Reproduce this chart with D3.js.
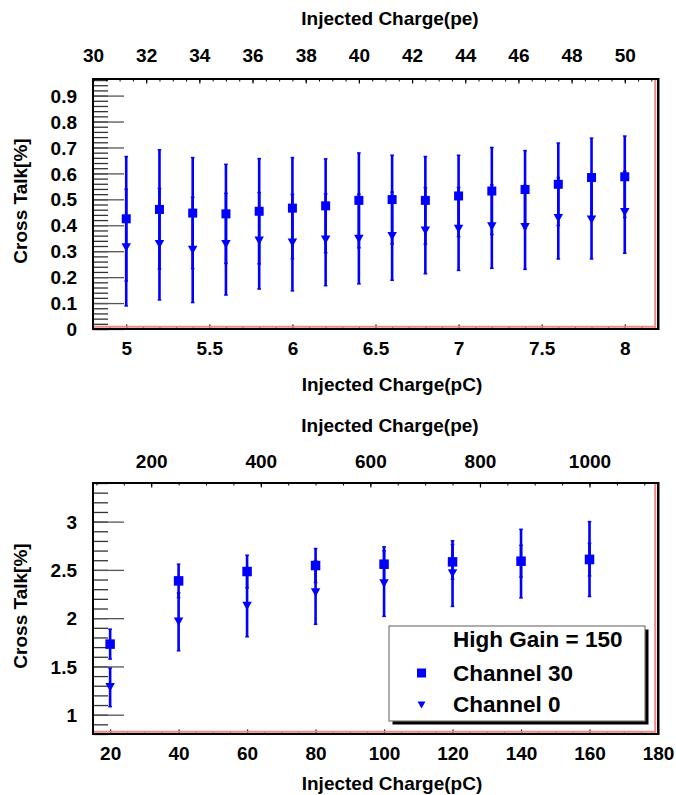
<!DOCTYPE html>
<html>
<head>
<meta charset="utf-8">
<script src="https://cdn.jsdelivr.net/npm/d3@7"></script>
<style>
  html, body { margin: 0; padding: 0; background: #fff; }
  svg { display: block; }
  text { font-family: "Liberation Sans", Arial, sans-serif; font-weight: bold; fill: #000; }
</style>
</head>
<body>
<svg id="chart" width="676" height="795"></svg>
<script>
// ---------------- DATA ----------------
// Top panel (low charge)
const xTop = [5.0, 5.2, 5.4, 5.6, 5.8, 6.0, 6.2, 6.4, 6.6, 6.8, 7.0, 7.2, 7.4, 7.6, 7.8, 8.0];
const ch30Top = [0.425, 0.461, 0.447, 0.444, 0.454, 0.466, 0.475, 0.496, 0.499, 0.496, 0.513, 0.532, 0.538, 0.558, 0.584, 0.587];
const ch30TopErr = [0.240, 0.230, 0.214, 0.191, 0.203, 0.195, 0.181, 0.183, 0.171, 0.169, 0.157, 0.168, 0.150, 0.159, 0.152, 0.157];
const ch0Top = [0.314, 0.327, 0.305, 0.327, 0.340, 0.333, 0.344, 0.347, 0.358, 0.379, 0.386, 0.395, 0.392, 0.427, 0.421, 0.450];
const ch0TopErr = [0.225, 0.215, 0.203, 0.196, 0.186, 0.186, 0.177, 0.173, 0.170, 0.166, 0.160, 0.161, 0.162, 0.157, 0.151, 0.158];

// Bottom panel (high charge)
const xBot = [20, 40, 60, 80, 100, 120, 140, 160];
const ch30Bot = [1.731, 2.386, 2.483, 2.545, 2.559, 2.583, 2.590, 2.607];
const ch30BotErr = [0.155, 0.173, 0.169, 0.176, 0.180, 0.180, 0.165, 0.170];
const ch0Bot = [1.283, 1.962, 2.127, 2.266, 2.359, 2.462, 2.565, 2.612];
const ch0BotErr = [0.200, 0.300, 0.320, 0.330, 0.340, 0.340, 0.355, 0.388];

// Tick labels
const topXTicks = [5, 5.5, 6, 6.5, 7, 7.5, 8];
const topYTicks = [0, 0.1, 0.2, 0.3, 0.4, 0.5, 0.6, 0.7, 0.8, 0.9];
const topPeTicks = [30, 32, 34, 36, 38, 40, 42, 44, 46, 48, 50];
const botXTicks = [20, 40, 60, 80, 100, 120, 140, 160, 180];
const botYTicks = [1, 1.5, 2, 2.5, 3];
const botPeTicks = [200, 400, 600, 800, 1000];

const xTitle = "Injected Charge(pC)";
const peTitle = "Injected Charge(pe)";
const yTitle = "Cross Talk[%]";
const legendTitle = "High Gain = 150";
const seriesNames = ["Channel 30", "Channel 0"];
const pePerPC = 6.25;

// ---------------- DRAW ----------------
const svg = d3.select("#chart");
const BLUE = "#0000ff";
const FS = 19;

function rangeStep(a, b, s) {
  const n = Math.round((b - a) / s);
  const out = [];
  for (let i = 0; i <= n; i++) out.push(+(a + i * s).toFixed(6));
  return out;
}

function panel(cfg) {
  const L = 93, R = 658, T = cfg.top, B = cfg.bottom;
  const x = d3.scaleLinear().domain(cfg.xDomain).range([L, R]);
  const y = d3.scaleLinear().domain(cfg.yDomain).range([B, T]);
  const pe = d3.scaleLinear().domain([cfg.xDomain[0] * pePerPC, cfg.xDomain[1] * pePerPC]).range([L, R]);
  const g = svg.append("g");

  g.append("rect").attr("x", L).attr("y", T).attr("width", R - L).attr("height", B - T).attr("fill", "#fff");

  // Y axis minor
  g.append("g").attr("transform", `translate(${L},0)`)
    .call(d3.axisLeft(y).tickValues(cfg.yMinor).tickSize(-15).tickFormat(""))
    .call(s => s.select(".domain").remove())
    .call(s => s.selectAll("line").attr("stroke", "#333").attr("stroke-width", 1.3));
  // Y axis major
  g.append("g").attr("transform", `translate(${L},0)`)
    .call(d3.axisLeft(y).tickValues(cfg.yTicks).tickSize(-31).tickPadding(16).tickFormat(d => String(d)))
    .call(s => s.select(".domain").remove())
    .call(s => s.selectAll("line").attr("stroke", "#555").attr("stroke-width", 1.3))
    .call(s => s.selectAll("text").attr("font-size", FS).attr("dy", "0.35em")
      .style("font-family", '"Liberation Sans", Arial, sans-serif').style("font-weight", "bold").attr("fill", "#000"));

  // Bottom axis (pC)
  g.append("g").attr("transform", `translate(0,${B})`)
    .call(d3.axisBottom(x).tickValues(cfg.xMinor).tickSize(-2.5).tickFormat(""))
    .call(s => s.select(".domain").remove())
    .call(s => s.selectAll("line").attr("stroke", "#000").attr("stroke-width", 1));
  g.append("g").attr("transform", `translate(0,${B})`)
    .call(d3.axisBottom(x).tickValues(cfg.xTicks).tickSize(-4.5).tickPadding(cfg.botPad).tickFormat(d => String(d)))
    .call(s => s.select(".domain").remove())
    .call(s => s.selectAll("line").attr("stroke", "#000").attr("stroke-width", 1.2))
    .call(s => s.selectAll("text").attr("font-size", FS).attr("dy", "0.71em")
      .style("font-family", '"Liberation Sans", Arial, sans-serif').style("font-weight", "bold").attr("fill", "#000"));

  // Top axis (pe)
  g.append("g").attr("transform", `translate(0,${T})`)
    .call(d3.axisTop(pe).tickValues(cfg.peMinor).tickSize(-2.5).tickFormat(""))
    .call(s => s.select(".domain").remove())
    .call(s => s.selectAll("line").attr("stroke", "#000").attr("stroke-width", 1));
  g.append("g").attr("transform", `translate(0,${T})`)
    .call(d3.axisTop(pe).tickValues(cfg.peTicks).tickSize(-4.5).tickPadding(cfg.topPad).tickFormat(d => String(d)))
    .call(s => s.select(".domain").remove())
    .call(s => s.selectAll("line").attr("stroke", "#000").attr("stroke-width", 1.2))
    .call(s => s.selectAll("text").attr("font-size", FS).attr("dy", "0")
      .style("font-family", '"Liberation Sans", Arial, sans-serif').style("font-weight", "bold").attr("fill", "#000"));

  // frame lines
  g.append("line").attr("x1", L + 1).attr("x2", R - 2).attr("y1", B - 2.2).attr("y2", B - 2.2)
    .attr("stroke", "#f08888").attr("stroke-width", 2);
  g.append("line").attr("x1", R - 2.8).attr("x2", R - 2.8).attr("y1", T + 1).attr("y2", B - 1)
    .attr("stroke", "#f08888").attr("stroke-width", 2);
  g.append("rect").attr("x", L).attr("y", T).attr("width", R - L).attr("height", B - T)
    .attr("fill", "none").attr("stroke", "#000").attr("stroke-width", 2);
  g.append("line").attr("x1", R + 0.5).attr("x2", R + 0.5).attr("y1", T - 1).attr("y2", B + 1)
    .attr("stroke", "#000").attr("stroke-width", 2);

  // Error bars (Channel 0 first, then Channel 30)
  function errBars(xs, vals, errs) {
    const eg = g.append("g");
    xs.forEach((xv, i) => {
      const cx = x(xv), y1 = y(vals[i] - errs[i]), y2 = y(vals[i] + errs[i]);
      eg.append("line").attr("x1", cx).attr("x2", cx).attr("y1", y1).attr("y2", y2)
        .attr("stroke", BLUE).attr("stroke-width", 2.6);
      [y1, y2].forEach(yy => eg.append("line").attr("x1", cx - 1.8).attr("x2", cx + 1.8)
        .attr("y1", yy).attr("y2", yy).attr("stroke", BLUE).attr("stroke-width", 1.5));
    });
  }
  errBars(cfg.xs, cfg.ch0, cfg.ch0Err);
  errBars(cfg.xs, cfg.ch30, cfg.ch30Err);

  // Triangles (Channel 0)
  const tw = cfg.triW, th = cfg.triH;
  g.append("g").selectAll("path").data(cfg.xs).join("path")
    .attr("d", (d, i) => {
      const cx = x(d), cy = y(cfg.ch0[i]);
      return `M${cx - tw / 2},${cy - th / 2}L${cx + tw / 2},${cy - th / 2}L${cx},${cy + th / 2}Z`;
    })
    .attr("fill", BLUE);
  // Squares (Channel 30)
  const sq = cfg.sq;
  g.append("g").selectAll("rect").data(cfg.xs).join("rect")
    .attr("x", d => x(d) - sq / 2)
    .attr("y", (d, i) => y(cfg.ch30[i]) - sq / 2)
    .attr("width", sq).attr("height", sq)
    .attr("fill", BLUE);

  // Titles
  g.append("text").attr("x", 390).attr("y", cfg.peTitleY).attr("text-anchor", "middle")
    .attr("font-size", FS).text(peTitle);
  g.append("text").attr("x", 392).attr("y", cfg.xTitleY).attr("text-anchor", "middle")
    .attr("font-size", FS).text(xTitle);
  g.append("text").attr("transform", `translate(27,${cfg.yTitleCY}) rotate(-90)`)
    .attr("text-anchor", "middle").attr("font-size", FS).text(yTitle);

  return {x, y, g};
}

panel({
  top: 79, bottom: 329,
  xDomain: [4.8, 8.2], yDomain: [0, 0.964],
  xTicks: topXTicks, xMinor: rangeStep(4.8, 8.2, 0.1),
  yTicks: topYTicks, yMinor: rangeStep(0, 0.96, 0.02),
  peTicks: topPeTicks, peMinor: rangeStep(30, 51, 0.5),
  xs: xTop, ch30: ch30Top, ch30Err: ch30TopErr, ch0: ch0Top, ch0Err: ch0TopErr,
  sq: 9, triW: 9.5, triH: 8.5,
  topPad: 17, botPad: 13,
  peTitleY: 25, xTitleY: 391, yTitleCY: 201
});

panel({
  top: 483, bottom: 734,
  xDomain: [15, 180], yDomain: [0.8, 3.4],
  xTicks: botXTicks, xMinor: rangeStep(15, 180, 5),
  yTicks: botYTicks, yMinor: rangeStep(0.8, 3.4, 0.1),
  peTicks: botPeTicks, peMinor: rangeStep(100, 1100, 50),
  xs: xBot, ch30: ch30Bot, ch30Err: ch30BotErr, ch0: ch0Bot, ch0Err: ch0BotErr,
  sq: 9.5, triW: 9.5, triH: 8.5,
  topPad: 15, botPad: 12.5,
  peTitleY: 432, xTitleY: 790, yTitleCY: 606
});

// Legend
const lg = svg.append("g");
const lx = 389, ly = 626, lw = 256, lh = 95;
lg.append("rect").attr("x", lx + 3.5).attr("y", ly + 3.5).attr("width", lw).attr("height", lh).attr("fill", "#000");
lg.append("rect").attr("x", lx).attr("y", ly).attr("width", lw).attr("height", lh)
  .attr("fill", "#fff").attr("stroke", "#777").attr("stroke-width", 1.2);
lg.append("text").attr("x", 453).attr("y", 647).attr("font-size", 22.5).text(legendTitle);
lg.append("rect").attr("x", 421.5 - 4.5).attr("y", 673 - 4.5).attr("width", 9).attr("height", 9).attr("fill", BLUE);
lg.append("text").attr("x", 453).attr("y", 680.5).attr("font-size", 22.5).text(seriesNames[0]);
lg.append("path").attr("d", `M${421.5 - 4},${705 - 3.5}L${421.5 + 4},${705 - 3.5}L${421.5},${705 + 3.5}Z`).attr("fill", BLUE);
lg.append("text").attr("x", 453).attr("y", 712).attr("font-size", 22.5).text(seriesNames[1]);
</script>
</body>
</html>
